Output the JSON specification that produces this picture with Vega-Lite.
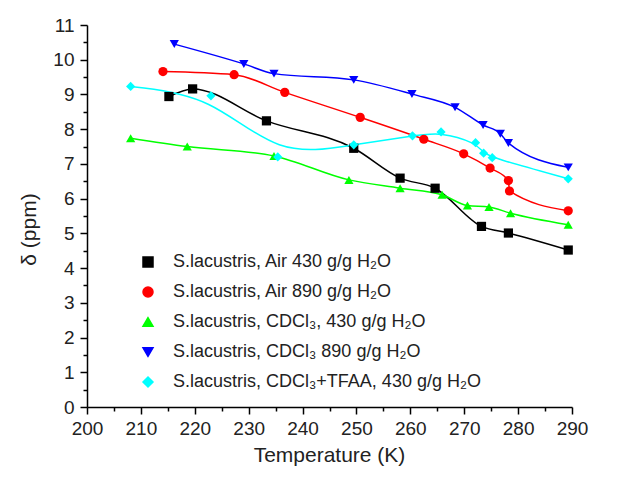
{
  "$schema": "https://vega.github.io/schema/vega-lite/v6.json",
  "width": 485,
  "height": 382,
  "autosize": {"type": "none"},
  "padding": {"left": 87, "top": 25, "right": 55, "bottom": 75},
  "background": "white",
  "config": {
    "view": {"stroke": null},
    "font": "Liberation Sans",
    "axis": {
      "grid": false,
      "domainColor": "#000000",
      "domainWidth": 1.5,
      "tickColor": "#000000",
      "tickWidth": 1.5,
      "labelFont": "Liberation Sans",
      "labelFontSize": 19,
      "labelColor": "#222222",
      "labelFlush": false,
      "labelOverlap": false,
      "titleFont": "Liberation Sans",
      "titleFontSize": 21,
      "titleFontWeight": "normal",
      "titleColor": "#222222"
    },
    "legend": {
      "orient": "none", "legendX": 52, "legendY": 228, "title": null, "padding": 0,
      "labelFontSize": 18, "labelColor": "#222222", "labelFont": "Liberation Sans", "labelOffset": 16, "rowPadding": 12, "labelLimit": 0
    }
  },
  "data": {
    "values": [
      {"series": "S.lacustris, Air 430 g/g H₂O", "temperature": 215.2, "shift": 8.94},
      {"series": "S.lacustris, Air 430 g/g H₂O", "temperature": 219.6, "shift": 9.16},
      {"series": "S.lacustris, Air 430 g/g H₂O", "temperature": 233.3, "shift": 8.24},
      {"series": "S.lacustris, Air 430 g/g H₂O", "temperature": 249.5, "shift": 7.45},
      {"series": "S.lacustris, Air 430 g/g H₂O", "temperature": 258.1, "shift": 6.59},
      {"series": "S.lacustris, Air 430 g/g H₂O", "temperature": 264.6, "shift": 6.3},
      {"series": "S.lacustris, Air 430 g/g H₂O", "temperature": 273.2, "shift": 5.2},
      {"series": "S.lacustris, Air 430 g/g H₂O", "temperature": 278.2, "shift": 5.01},
      {"series": "S.lacustris, Air 430 g/g H₂O", "temperature": 289.3, "shift": 4.52},
      {"series": "S.lacustris, Air 890 g/g H₂O", "temperature": 214.1, "shift": 9.66},
      {"series": "S.lacustris, Air 890 g/g H₂O", "temperature": 227.3, "shift": 9.57},
      {"series": "S.lacustris, Air 890 g/g H₂O", "temperature": 236.7, "shift": 9.06},
      {"series": "S.lacustris, Air 890 g/g H₂O", "temperature": 250.7, "shift": 8.34},
      {"series": "S.lacustris, Air 890 g/g H₂O", "temperature": 262.5, "shift": 7.71},
      {"series": "S.lacustris, Air 890 g/g H₂O", "temperature": 269.9, "shift": 7.29},
      {"series": "S.lacustris, Air 890 g/g H₂O", "temperature": 274.8, "shift": 6.88},
      {"series": "S.lacustris, Air 890 g/g H₂O", "temperature": 278.2, "shift": 6.52},
      {"series": "S.lacustris, Air 890 g/g H₂O", "temperature": 278.4, "shift": 6.22},
      {"series": "S.lacustris, Air 890 g/g H₂O", "temperature": 289.3, "shift": 5.65},
      {"series": "S.lacustris, CDCl₃, 430 g/g H₂O", "temperature": 208.1, "shift": 7.74},
      {"series": "S.lacustris, CDCl₃, 430 g/g H₂O", "temperature": 218.6, "shift": 7.5},
      {"series": "S.lacustris, CDCl₃, 430 g/g H₂O", "temperature": 234.7, "shift": 7.23},
      {"series": "S.lacustris, CDCl₃, 430 g/g H₂O", "temperature": 248.6, "shift": 6.54},
      {"series": "S.lacustris, CDCl₃, 430 g/g H₂O", "temperature": 258.1, "shift": 6.3},
      {"series": "S.lacustris, CDCl₃, 430 g/g H₂O", "temperature": 265.9, "shift": 6.11},
      {"series": "S.lacustris, CDCl₃, 430 g/g H₂O", "temperature": 270.6, "shift": 5.8},
      {"series": "S.lacustris, CDCl₃, 430 g/g H₂O", "temperature": 274.6, "shift": 5.76},
      {"series": "S.lacustris, CDCl₃, 430 g/g H₂O", "temperature": 278.6, "shift": 5.58},
      {"series": "S.lacustris, CDCl₃, 430 g/g H₂O", "temperature": 289.3, "shift": 5.25},
      {"series": "S.lacustris, CDCl₃ 890 g/g H₂O", "temperature": 216.2, "shift": 10.45},
      {"series": "S.lacustris, CDCl₃ 890 g/g H₂O", "temperature": 229.1, "shift": 9.88},
      {"series": "S.lacustris, CDCl₃ 890 g/g H₂O", "temperature": 234.7, "shift": 9.6},
      {"series": "S.lacustris, CDCl₃ 890 g/g H₂O", "temperature": 249.5, "shift": 9.42},
      {"series": "S.lacustris, CDCl₃ 890 g/g H₂O", "temperature": 260.3, "shift": 9.01},
      {"series": "S.lacustris, CDCl₃ 890 g/g H₂O", "temperature": 268.3, "shift": 8.63},
      {"series": "S.lacustris, CDCl₃ 890 g/g H₂O", "temperature": 273.5, "shift": 8.12},
      {"series": "S.lacustris, CDCl₃ 890 g/g H₂O", "temperature": 276.7, "shift": 7.87},
      {"series": "S.lacustris, CDCl₃ 890 g/g H₂O", "temperature": 278.2, "shift": 7.6},
      {"series": "S.lacustris, CDCl₃ 890 g/g H₂O", "temperature": 289.3, "shift": 6.9},
      {"series": "S.lacustris, CDCl₃+TFAA, 430 g/g H₂O", "temperature": 208.1, "shift": 9.23},
      {"series": "S.lacustris, CDCl₃+TFAA, 430 g/g H₂O", "temperature": 223.0, "shift": 8.96},
      {"series": "S.lacustris, CDCl₃+TFAA, 430 g/g H₂O", "temperature": 235.4, "shift": 7.2},
      {"series": "S.lacustris, CDCl₃+TFAA, 430 g/g H₂O", "temperature": 249.5, "shift": 7.55},
      {"series": "S.lacustris, CDCl₃+TFAA, 430 g/g H₂O", "temperature": 260.4, "shift": 7.81},
      {"series": "S.lacustris, CDCl₃+TFAA, 430 g/g H₂O", "temperature": 265.7, "shift": 7.92},
      {"series": "S.lacustris, CDCl₃+TFAA, 430 g/g H₂O", "temperature": 272.1, "shift": 7.61},
      {"series": "S.lacustris, CDCl₃+TFAA, 430 g/g H₂O", "temperature": 273.6, "shift": 7.31},
      {"series": "S.lacustris, CDCl₃+TFAA, 430 g/g H₂O", "temperature": 275.2, "shift": 7.18},
      {"series": "S.lacustris, CDCl₃+TFAA, 430 g/g H₂O", "temperature": 289.3, "shift": 6.57}
    ]
  },
  "resolve": {"axis": {"x": "independent", "y": "independent"}},
  "layer": [
    {
      "transform": [{"filter": "datum.series != 'S.lacustris, CDCl₃+TFAA, 430 g/g H₂O'"}],
      "mark": {"type": "line", "interpolate": "monotone", "strokeWidth": 1.5},
      "encoding": {
        "x": {
          "field": "temperature", "type": "quantitative",
          "scale": {"domain": [200, 290], "nice": false, "zero": false},
          "axis": {"orient": "bottom", "values": [200, 210, 220, 230, 240, 250, 260, 270, 280, 290], "tickSize": 7, "labelPadding": 5, "title": "Temperature (K)", "titleX": 242, "titleY": 48, "titleBaseline": "middle"}
        },
        "y": {
          "field": "shift", "type": "quantitative",
          "scale": {"domain": [0, 11], "nice": false},
          "axis": {"orient": "left", "values": [0, 1, 2, 3, 4, 5, 6, 7, 8, 9, 10, 11], "tickSize": 7, "labelPadding": 6, "title": "δ (ppm)", "titleX": -58, "titleY": 204, "titleBaseline": "middle", "titleAlign": "center", "titleAngle": 270}
        },
        "color": {
          "field": "series", "type": "nominal",
          "scale": {
            "domain": ["S.lacustris, Air 430 g/g H₂O", "S.lacustris, Air 890 g/g H₂O", "S.lacustris, CDCl₃, 430 g/g H₂O", "S.lacustris, CDCl₃ 890 g/g H₂O", "S.lacustris, CDCl₃+TFAA, 430 g/g H₂O"],
            "range": ["#000000", "#ff0000", "#00ff00", "#0000ff", "#00ffff"]
          }
        }
      }
    },
    {
      "transform": [{"filter": "datum.series == 'S.lacustris, CDCl₃+TFAA, 430 g/g H₂O'"}],
      "mark": {"type": "line", "interpolate": "basis", "strokeWidth": 1.5},
      "encoding": {
        "x": {"field": "temperature", "type": "quantitative", "axis": null},
        "y": {"field": "shift", "type": "quantitative", "axis": null},
        "color": {"field": "series", "type": "nominal"}
      }
    },
    {
      "mark": {"type": "point", "filled": true, "size": 85, "opacity": 1},
      "encoding": {
        "x": {
          "field": "temperature", "type": "quantitative",
          "axis": {"orient": "bottom", "values": [205, 215, 225, 235, 245, 255, 265, 275, 285], "tickSize": 4, "labels": false, "domain": false, "title": null}
        },
        "y": {
          "field": "shift", "type": "quantitative",
          "axis": {"orient": "left", "values": [0.5, 1.5, 2.5, 3.5, 4.5, 5.5, 6.5, 7.5, 8.5, 9.5, 10.5], "tickSize": 4, "labels": false, "domain": false, "title": null}
        },
        "color": {"field": "series", "type": "nominal"},
        "shape": {
          "field": "series", "type": "nominal",
          "scale": {
            "domain": ["S.lacustris, Air 430 g/g H₂O", "S.lacustris, Air 890 g/g H₂O", "S.lacustris, CDCl₃, 430 g/g H₂O", "S.lacustris, CDCl₃ 890 g/g H₂O", "S.lacustris, CDCl₃+TFAA, 430 g/g H₂O"],
            "range": ["square", "circle", "triangle-up", "triangle-down", "diamond"]
          }
        }
      }
    }
  ]
}
